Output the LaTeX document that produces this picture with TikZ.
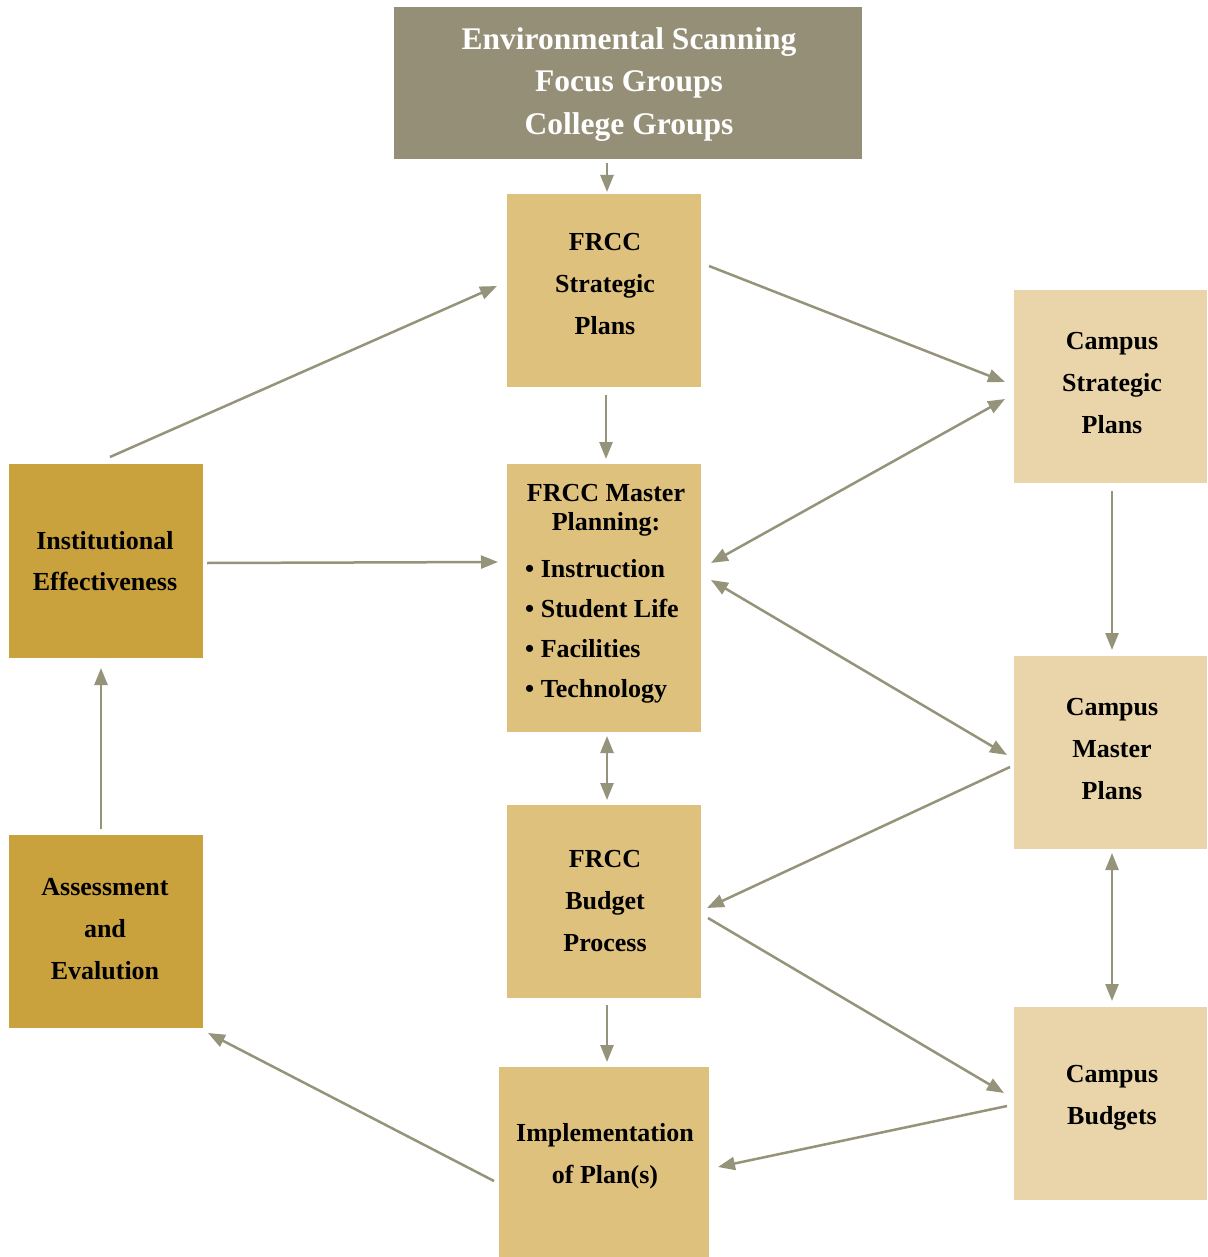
\documentclass[tikz,border=0pt]{standalone}
\usepackage{fontspec}
\setmainfont{Liberation Serif}
\usetikzlibrary{arrows.meta,calc}
\definecolor{topc}{HTML}{958F77}
\definecolor{frcc}{HTML}{DFC17E}
\definecolor{camp}{HTML}{E9D5A9}
\definecolor{gold}{HTML}{C9A23E}
\definecolor{arrc}{HTML}{959379}
\begin{document}
\begin{tikzpicture}[x=1pt,y=-1pt,
  box/.style={anchor=north west, inner sep=0pt, outer sep=0pt, draw=none, fill=#1},
  txt/.style={align=center, inner sep=0pt, font=\fontsize{26}{42}\selectfont\bfseries},
  arr/.style={draw=arrc, line width=2.5pt, -{Triangle[length=17pt,width=13pt]}},
  darr/.style={draw=arrc, line width=2.5pt, {Triangle[length=17pt,width=13pt]}-{Triangle[length=17pt,width=13pt]}}]
\useasboundingbox (0,0) rectangle (1207,1257);
% boxes
\node[box=topc, minimum width=468pt, minimum height=152pt] (top) at (394,7) {};
\node[box=frcc, minimum width=194pt, minimum height=193pt] (fs) at (507,194) {};
\node[box=camp, minimum width=193pt, minimum height=193pt] (cs) at (1014,290) {};
\node[box=gold, minimum width=194pt, minimum height=194pt] (ie) at (9,464) {};
\node[box=frcc, minimum width=194pt, minimum height=268pt] (fm) at (507,464) {};
\node[box=camp, minimum width=193pt, minimum height=193pt] (cm) at (1014,656) {};
\node[box=frcc, minimum width=194pt, minimum height=193pt] (fb) at (507,805) {};
\node[box=gold, minimum width=194pt, minimum height=193pt] (as) at (9,835) {};
\node[box=camp, minimum width=193pt, minimum height=193pt] (cb) at (1014,1007) {};
\node[box=frcc, minimum width=210pt, minimum height=190pt] (im) at (499,1067) {};
% texts
\node[txt, text=white, font=\fontsize{31.5}{42.5}\selectfont\bfseries] (topt) at (629,84.5) {Environmental Scanning\\Focus Groups\\College Groups};
\node[txt] (fst) at (605,284.5) {FRCC\\Strategic\\Plans};
\node[txt] (cst) at (1112,383.5) {Campus\\Strategic\\Plans};
\node[txt, font=\fontsize{26}{41}\selectfont\bfseries] (iet) at (105,561) {Institutional\\Effectiveness};
\node[txt, font=\fontsize{26}{29}\selectfont\bfseries] (fmh) at (606,510.5) {FRCC Master\\Planning:};
\node[txt, align=left, anchor=west, font=\fontsize{26}{40}\selectfont\bfseries] (fmb) at (525,631) {• Instruction\\• Student Life\\• Facilities\\• Technology};
\node[txt] (cmt) at (1112,749) {Campus\\Master\\Plans};
\node[txt] (fbt) at (605,901.5) {FRCC\\Budget\\Process};
\node[txt] (ast) at (105,929.5) {Assessment\\and\\Evalution};
\node[txt] (cbt) at (1112,1098) {Campus\\Budgets};
\node[txt] (imt) at (605,1156) {Implementation\\of Plan(s)};
% connectors
\draw[arr] ($(top.south)+(-21,4)$) -- ($(fs.north)+(3,-2)$);
\draw[arr] ($(fs.north east)+(8,72)$) -- ($(cs.west)+(-9,-4.5)$);
\draw[arr] ($(fs.south)+(2,8)$) -- ($(fm.north)+(2,-5)$);
\draw[darr] ($(cs.west)+(-9,12.5)$) -- ($(fm.north east)+(10,99)$);
\draw[darr] ($(fm.north east)+(10,116)$) -- ($(cm.west)+(-7,2.5)$);
\draw[arr] ($(ie.east)+(4,2)$) -- ($(fm.west)+(-9,-36)$);
\draw[arr] ($(ie.north)+(4,-7)$) -- ($(fs.west)+(-10,-4.5)$);
\draw[darr] ($(fm.south)+(3,4)$) -- ($(fb.north)+(3,-5)$);
\draw[arr] ($(cs.south)+(1.5,8)$) -- ($(cm.north)+(1.5,-6)$);
\draw[arr] ($(cm.west)+(-4,14.5)$) -- ($(fb.east)+(6,6.5)$);
\draw[darr] ($(cm.south)+(1.5,4)$) -- ($(cb.north)+(1.5,-6)$);
\draw[arr] ($(fb.east)+(7,16.5)$) -- ($(cb.west)+(-10,-10.5)$);
\draw[arr] ($(fb.south)+(3,7)$) -- ($(im.north)+(3,-5)$);
\draw[arr] ($(cb.west)+(-7,2.5)$) -- ($(im.east)+(9,5)$);
\draw[arr] ($(im.west)+(-5,19)$) -- ($(as.south east)+(5,5)$);
\draw[arr] ($(as.north)+(-5,-6)$) -- ($(ie.south)+(-5,10)$);
\end{tikzpicture}
\end{document}
